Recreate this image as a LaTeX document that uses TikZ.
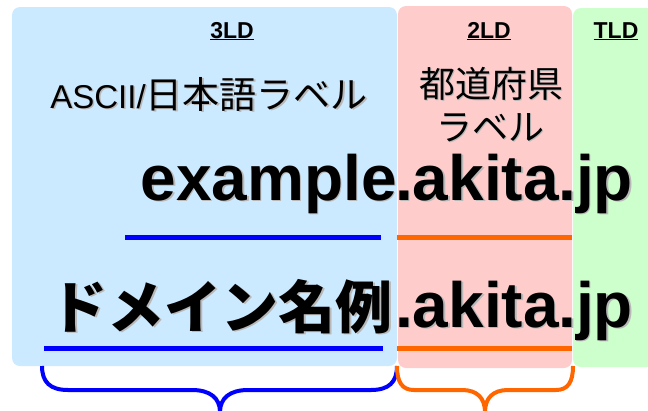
\documentclass[tikz,border=0pt]{standalone}
\usepackage{fontspec}
\setmainfont{Liberation Sans}
\newfontfamily\jpfont{Noto Sans CJK JP}
\definecolor{lblue}{RGB}{204,234,255}
\definecolor{lpink}{RGB}{255,204,204}
\definecolor{lgreen}{RGB}{204,255,204}
\definecolor{orng}{RGB}{255,102,0}
\definecolor{bblue}{RGB}{0,0,255}
\newcommand\shtext[1]{\leavevmode\rlap{\kern1.5pt\raisebox{-1.5pt}{\color{black!28}#1}}#1}
\tikzset{
  box/.style={rounded corners=8pt, inner sep=0pt, outer sep=0pt, draw=none},
  lvl/.style={font=\fontsize{23}{23}\selectfont\bfseries, inner sep=0pt, anchor=base},
  mid/.style={inner sep=0pt, anchor=base},
  big/.style={font=\fontsize{64}{64}\selectfont\bfseries, inner sep=0pt},
  bigjp/.style={font=\jpfont\fontsize{57}{57}\selectfont\bfseries, inner sep=0pt},
  ul/.style={line width=5pt},
  brace/.style={line width=4pt}
}
\begin{document}
\begin{tikzpicture}[x=1pt,y=-1pt]
\useasboundingbox (0,0) rectangle (648,410);
\clip (0,0) rectangle (648,410);
% boxes
\node[box, fill=lblue, minimum width=385pt, minimum height=359pt] (b3) at (204.5,186.5) {};
\node[box, fill=lpink, minimum width=174pt, minimum height=362pt] (b2) at (485,187) {};
\node[box, fill=lgreen, minimum width=90pt, minimum height=359pt] (b1) at (618,187.5) {};
% level labels
\node[lvl] (l3) at (232,38) {\underline{3LD}};
\node[lvl] (l2) at (489,38) {\underline{2LD}};
\node[lvl] (l1) at (616,38) {\underline{TLD}};
% label descriptions
\node[mid] (d3) at (209,108) {\shtext{\fontsize{33}{33}\selectfont ASCII/\jpfont\fontsize{37}{37}\selectfont 日本語ラベル}};
\node[mid, font=\jpfont\fontsize{36}{36}\selectfont] (d2a) at (491,97) {\shtext{都道府県}};
\node[mid, font=\jpfont\fontsize{36}{36}\selectfont] (d2b) at (490,140) {\shtext{ラベル}};
% row 1
\node[big, anchor=base east] (e3) at (397,200) {\shtext{example}};
\node[big, anchor=base west] (e2) at (395,200) {\shtext{.akita.}};
\node[big, anchor=base west] (e1) at (576,200) {\shtext{jp}};
\draw[ul, bblue] (125,237) -- (381,237);
\draw[ul, orng] (397,237) -- (572,237);
% row 2
\node[bigjp, anchor=base east] (j3) at (393,328) {\shtext{ドメイン名例}};
\node[big, anchor=base west] (j2) at (395,327) {\shtext{.akita.}};
\node[big, anchor=base west] (j1) at (576,327) {\shtext{jp}};
\draw[ul, bblue] (44,348) -- (383,348);
\draw[ul, orng] (397,348) -- (572,348);
% braces
\draw[brace, bblue] (42,366) .. controls (42,382) and (50,390) .. (68,390) -- (192,390)
  .. controls (210,390) and (220,398) .. (220,412);
\draw[brace, bblue] (397,366) .. controls (397,382) and (389,390) .. (371,390) -- (248,390)
  .. controls (230,390) and (220,398) .. (220,412);
\draw[brace, orng] (397,366) .. controls (397,382) and (402,390) .. (414,390) -- (462,390)
  .. controls (477,390) and (485,398) .. (485,412);
\draw[brace, orng] (573,366) .. controls (573,382) and (568,390) .. (556,390) -- (508,390)
  .. controls (493,390) and (485,398) .. (485,412);
\end{tikzpicture}
\end{document}
